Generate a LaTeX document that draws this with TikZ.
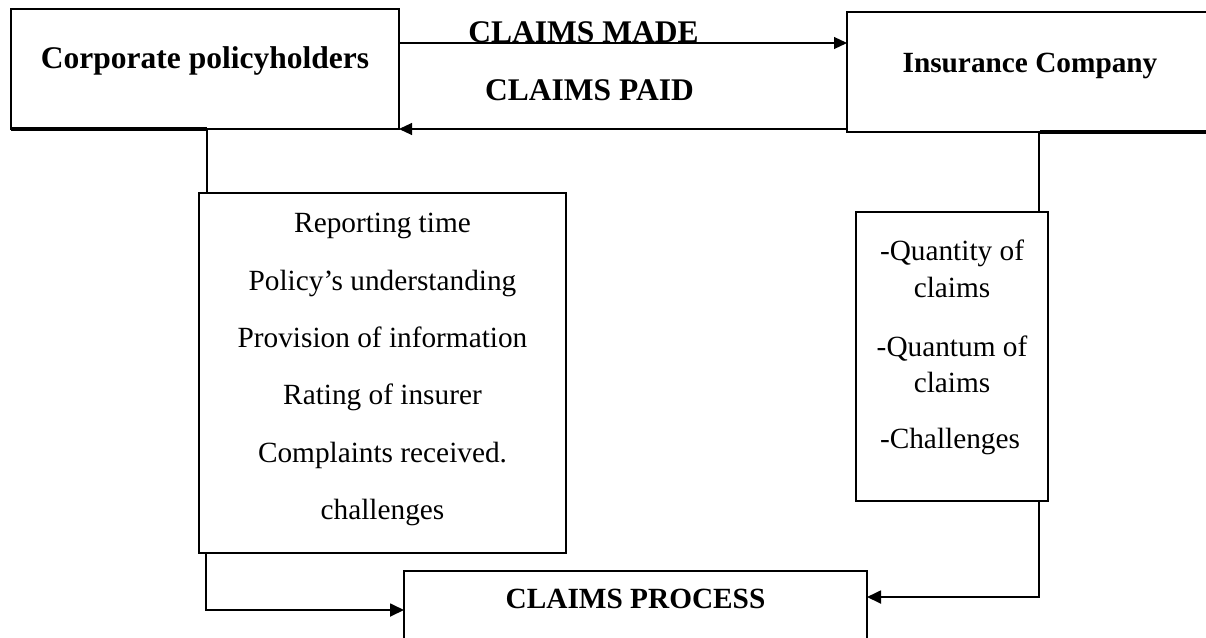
\documentclass[tikz,border=0pt]{standalone}
\usepackage{fontspec}
\setmainfont{Liberation Serif}
\usetikzlibrary{arrows.meta}
\begin{document}
\begin{tikzpicture}[x=1pt,y=-1pt,
  boxnode/.style={draw,line width=1.8pt,inner sep=0pt,outer sep=0pt,anchor=north west},
  txt/.style={inner sep=0pt,anchor=base,font=\fontsize{29.3}{35}\selectfont},
  bigbold/.style={inner sep=0pt,anchor=base,font=\fontsize{31.5}{36}\selectfont\bfseries},
  bold/.style={inner sep=0pt,anchor=base,font=\fontsize{29.3}{35}\selectfont\bfseries},
  thin/.style={line width=1.1pt,-{Triangle[length=13pt,width=12pt]}},
  conn/.style={line width=1.8pt},
  connarr/.style={line width=1.8pt,-{Triangle[length=14pt,width=13pt]}}]
\useasboundingbox (0,0) rectangle (1206,637);
% boxes
\node[boxnode,minimum width=388pt,minimum height=120pt] (cp) at (11,9) {};
\node[boxnode,minimum width=363pt,minimum height=120pt] (ic) at (847,12) {};
\node[boxnode,minimum width=367pt,minimum height=360pt] (lb) at (199,193) {};
\node[boxnode,minimum width=192pt,minimum height=289pt] (rb) at (856,212) {};
\node[boxnode,minimum width=463pt,minimum height=80pt] (pr) at (404,571) {};
% thick shadow segments
\draw[line width=4pt] (cp.south west) -- (cp.south west -| 207,0);
\draw[line width=4pt] (ic.south east -| 1040,0) -- (ic.south east);
% texts
\node[bigbold] (t1) at (205,68) {Corporate policyholders};
\node[bold] (t2) at (1030,72) {Insurance Company};
\node[bigbold] (t3) at (583.5,42) {CLAIMS MADE};
\node[bigbold] (t4) at (589.5,100) {CLAIMS PAID};
\node[bold] (t5) at (635.5,608) {CLAIMS PROCESS};
\node[txt] (l1) at (382.5,232) {Reporting time};
\node[txt] (l2) at (382.5,290) {Policy’s understanding};
\node[txt] (l3) at (382.5,347) {Provision of information};
\node[txt] (l4) at (382.5,404) {Rating of insurer};
\node[txt] (l5) at (382.5,462) {Complaints received.};
\node[txt] (l6) at (382.5,519) {challenges};
\node[txt] (r1) at (952,260) {-Quantity of};
\node[txt] (r2) at (952,297) {claims};
\node[txt] (r3) at (952,356) {-Quantum of};
\node[txt] (r4) at (952,392) {claims};
\node[txt] (r5) at (950,448) {-Challenges};
% connectors
\draw[thin] (cp.east |- 0,43) -- (ic.west |- 0,43);
\draw[thin] (ic.west |- 0,129) -- (cp.east |- 0,129);
\draw[conn] (cp.south -| 207,0) -- (lb.north -| 207,0);
\draw[conn] (ic.south -| 1039,0) -- (rb.north -| 1039,0);
\draw[connarr] (lb.south -| 206,0) -- (206,610) -- (pr.west |- 0,610);
\draw[connarr] (rb.south -| 1039,0) -- (1039,597) -- (pr.east |- 0,597);
\end{tikzpicture}
\end{document}
